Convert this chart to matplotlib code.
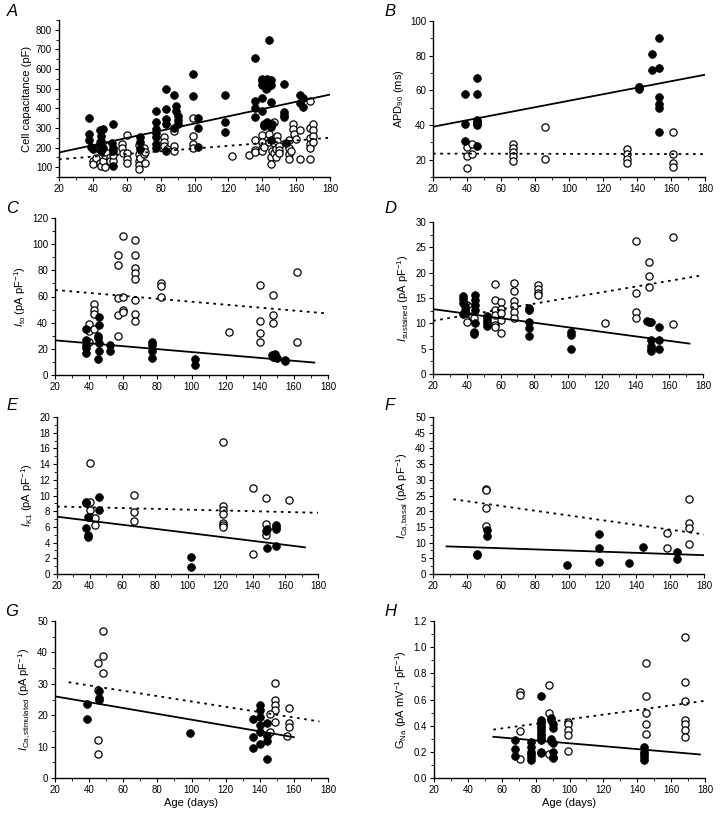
import matplotlib
matplotlib.use("Agg")
import matplotlib.pyplot as plt
from matplotlib.ticker import MultipleLocator, FormatStrFormatter

plt.rcParams['font.family'] = ['Liberation Sans', 'DejaVu Sans']
plt.rcParams['mathtext.fontset'] = 'custom'
plt.rcParams['mathtext.rm'] = 'Liberation Sans'
plt.rcParams['mathtext.it'] = 'Liberation Sans:italic'

# ---------------- data ----------------
# Panel A: cell capacitance (pF)
a_fill = [(38,350),(38,270),(38,240),(39,205),(40,195),(44,290),(46,295),(45,260),(45,235),(44,215),
          (46,200),(45,185),(52,320),(51,225),(52,200),(52,185),(52,105),(68,255),(68,230),(68,195),
          (77,385),(77,330),(77,295),(77,275),(77,255),(77,220),(77,200),(83,500),(83,395),(83,345),
          (83,320),(83,185),(88,470),(89,410),(89,385),(90,360),(90,340),(90,320),(88,300),(99,575),
          (99,465),(102,350),(102,300),(102,205),(118,470),(118,330),(118,280),(136,655),(136,435),
          (136,400),(136,355),(140,550),(140,540),(140,520),(142,500),(140,455),(140,385),(141,320),
          (141,310),(143,550),(143,530),(143,505),(144,750),(145,545),(145,520),(145,430),(143,330),
          (146,320),(145,305),(145,240),(153,525),(153,380),(153,365),(153,355),(154,225),(162,470),
          (162,425),(164,455),(164,405)]
a_open = [(40,130),(40,115),(42,145),(43,200),(44,230),(44,120),(45,105),(46,130),(47,100),(47,160),
          (48,175),(49,210),(50,150),(50,130),(52,130),(52,160),(57,220),(57,200),(58,170),(60,265),
          (60,170),(60,140),(60,120),(67,215),(67,165),(67,130),(67,110),(67,90),(68,145),(70,200),
          (70,165),(71,120),(71,175),(82,255),(82,230),(82,210),(84,195),(88,285),(88,210),(88,180),
          (99,350),(99,260),(99,220),(99,200),(122,155),(132,160),(136,240),(136,190),(136,175),
          (140,265),(140,230),(140,200),(140,180),(141,205),(144,270),(144,230),(145,150),(145,115),
          (146,180),(147,330),(147,225),(147,170),(148,150),(148,195),(149,260),(149,235),(150,210),
          (150,190),(150,170),(156,240),(156,200),(156,165),(156,140),(157,180),(158,320),(158,295),
          (159,270),(160,245),(162,290),(162,140),(168,435),(168,300),(168,250),(168,220),(168,200),
          (168,140),(170,320),(170,290),(170,260),(170,230)]
a_fit_fill = [(20,175),(180,470)]
a_fit_open = [(20,140),(180,250)]

# Panel B: APD90 (ms)
b_fill = [(39,58),(39,40.5),(39,31),(46,67),(46,58),(46,43),(46,42),(46,41),(46,40),(46,28),
          (149,81),(149,72),(153,90),(153,73),(153,56),(153,52),(153,50),(153,36),
          (141,62),(141,61),(141,62)]
b_open = [(40,15),(40,27.5),(40,22),(43,29),(43,23.5),(67,29),(67,27),(67,24.5),(67,22),(67,19),
          (86,39),(86,20.5),(134,26),(134,23.5),(134,20.5),(134,18),(161,36),(161,23.5),(161,18),(161,16)]
b_fit_fill = [(20,39),(180,69)]
b_fit_open = [(20,23.5),(180,23.2)]

# Panel C: Ito (pA/pF)
c_fill = [(38,35),(38,27),(38,23),(38,20.5),(38,17),(45,29.5),(45,28),(45,12.5),(46,44.5),(46,38.5),
          (46,24.5),(46,18),(52,23),(52,18),(77,25),(77,23),(77,18),(77,13),(102,12.5),(102,7.5),
          (147,15),(148,14),(149,16),(150,13),(155,11.5),(155,10.5)]
c_open = [(40,39),(40,34),(40,25.5),(43,54.5),(43,49.5),(43,46.5),(43,35.5),(57,92),(57,84),(57,59),
          (57,46),(57,30),(60,106.5),(60,59.5),(60,50),(60,48),(67,103.5),(67,92),(67,82),(67,78),(67,73),
          (67,57.5),(67,47),(67,41.5),(82,70),(82,68),(82,60),(122,33),(140,69),(140,41),(140,32),(140,25),
          (148,61),(148,46),(148,40),(162,78.5),(162,25.5)]
c_fit_fill = [(20,26.5),(172,9.5)]
c_fit_open = [(20,65),(180,47)]

# Panel D: Isustained (pA/pF)
d_fill = [(38,15.3),(38,14.8),(38,14),(39,13.5),(39,12.6),(39,12),(38,11.8),(45,15.6),(45,14.6),
          (45,13.6),(45,12.6),(45,10),(44,8.3),(44,7.8),(52,11.5),(52,11),(52,10.5),(52,10),(52,9.5),
          (77,13),(77,12.7),(77,10.3),(77,9),(77,7.5),(102,8.3),(102,7.7),(102,4.9),(147,10.5),
          (148,10.3),(149,10.2),(149,6.7),(149,5.5),(149,5),(149,4.6),(154,9.3),(154,6.8),(154,4.9)]
d_open = [(40,13.6),(40,12),(40,10.2),(42,13.3),(43,12.6),(43,11.5),(44,11),(57,17.7),(57,14.6),
          (57,12.6),(57,11.6),(57,9.6),(57,9.2),(60,14.2),(60,12.9),(60,12),(60,10.6),(60,8.1),
          (68,17.9),(68,16.4),(68,14.5),(68,13.4),(68,12.2),(68,11),(82,17.5),(82,16.8),(82,16),
          (82,15.6),(122,10),(140,26.3),(140,15.9),(140,12.3),(140,11),(148,22.1),(148,19.3),(148,17.2),
          (162,27),(162,9.8)]
d_fit_fill = [(20,12.8),(172,6)]
d_fit_open = [(20,10.5),(180,19.5)]

# Panel E: IK1 (pA/pF)
e_fill = [(38,9.2),(38,9.0),(39,7.2),(38,5.9),(39,5.0),(39,4.7),(46,9.8),(46,8.1),(102,2.2),(102,0.9),
          (148,5.5),(149,5.7),(149,3.3),(154,6.2),(154,6.0),(154,5.7),(154,3.6)]
e_open = [(40,14.2),(40,9.2),(40,8.2),(40,7.2),(43,7.1),(43,6.2),(67,10.1),(67,7.9),(67,6.8),
          (122,16.8),(122,8.6),(122,8.2),(122,7.6),(122,6.5),(122,6.2),(122,6.0),(140,10.9),(140,2.5),
          (148,9.7),(148,6.4),(148,5.0),(162,9.4)]
e_fit_fill = [(20,7.3),(172,3.4)]
e_fit_open = [(20,8.6),(180,7.8)]

# Panel F: ICa,basal (pA/pF)
f_fill = [(46,6.3),(46,6.0),(52,14.0),(52,12.2),(99,2.9),(118,12.8),(118,8.2),(118,3.9),(136,3.6),
          (144,8.7),(164,6.9),(164,4.7)]
f_open = [(51,27),(51,26.6),(51,21),(51,15.3),(158,13.2),(158,8.4),(171,23.8),(171,16.4),(171,14.8),(171,9.6)]
f_fit_fill = [(28,8.8),(180,6.0)]
f_fit_open = [(32,23.8),(180,12.6)]

# Panel G: ICa,stimulated (pA/pF)
g_fill = [(39,23.5),(39,18.7),(46,27.8),(46,24.8),(46,25.4),(99,14.2),(136,18.8),(136,13),(136,9.7),
          (140,23.2),(140,21.7),(140,19.3),(140,16.9),(140,14.5),(140,10.9),(144,17.5),(144,13.5),
          (144,11.8),(144,6)]
g_open = [(45,36.5),(45,28),(45,12.2),(45,7.5),(48,46.7),(48,38.8),(48,33.3),(149,30.1),(149,24.8),
          (149,23.3),(149,21.7),(149,17.7),(146,20.3),(146,14.5),(157,22.2),(157,17.4),(157,16.1),(156,13.4)]
g_fit_fill = [(20,26),(160,13)]
g_fit_open = [(28,30.5),(175,18)]

# Panel H: GNa (pA mV-1 pF-1)
h_fill = [(68,0.29),(68,0.225),(68,0.165),(77,0.275),(77,0.24),(77,0.2),(77,0.18),(77,0.16),(77,0.14),
          (83,0.44),(83,0.42),(83,0.40),(83,0.38),(83,0.36),(83,0.34),(83,0.32),(83,0.30),(83,0.29),
          (83,0.20),(83,0.19),(83,0.625),(89,0.46),(89,0.44),(90,0.41),(90,0.38),(89,0.30),(89,0.28),
          (90,0.27),(90,0.20),(90,0.16),(90,0.15),(144,0.24),(144,0.20),(144,0.18),(144,0.16),(144,0.14)]
h_open = [(71,0.655),(71,0.635),(71,0.36),(71,0.145),(88,0.71),(88,0.50),(88,0.18),(99,0.43),(99,0.41),
          (99,0.37),(99,0.33),(99,0.21),(145,0.88),(145,0.63),(145,0.50),(145,0.41),(145,0.34),
          (168,1.08),(168,0.73),(168,0.59),(168,0.44),(168,0.41),(168,0.37),(168,0.31)]
h_fit_fill = [(55,0.315),(177,0.18)]
h_fit_open = [(55,0.37),(180,0.59)]

ylabels = ["Cell capacitance (pF)", r"APD$_{90}$ (ms)", r"$I_{\rm to}$ (pA pF$^{-1}$)",
           r"$I_{\rm sustained}$ (pA pF$^{-1}$)", r"$I_{\rm K1}$ (pA pF$^{-1}$)",
           r"$I_{\rm Ca,basal}$ (pA pF$^{-1}$)", r"$I_{\rm Ca,stimulated}$ (pA pF$^{-1}$)",
           r"G$_{\rm Na}$ (pA mV$^{-1}$ pF$^{-1}$)"]
letters = ["A", "B", "C", "D", "E", "F", "G", "H"]
xticks = [20, 40, 60, 80, 100, 120, 140, 160, 180]

# ---------------- layout ----------------
W, H = 720, 815
fig = plt.figure(figsize=(W / 100, H / 100), dpi=100)

def box(l, r, t, b):
    return [l / W, 1 - b / H, (r - l) / W, (b - t) / H]

rects = [box(59, 330, 20, 177), box(433, 705, 21, 177),
         box(55, 328, 218, 375), box(433, 703, 222, 374),
         box(57, 318, 417, 574), box(433, 704, 417, 574),
         box(55, 328, 621, 778), box(434, 705, 621, 778)]
ylims = [(50, 850), (10, 100), (0, 120), (0, 30), (0, 20), (0, 50), (0, 50), (0, 1.2)]
ymaj = [100, 20, 20, 5, 2, 5, 10, 0.2]
ymin = [50, 10, 10, 2.5, 1, 2.5, 5, 0.1]
yfmt = ["%d", "%d", "%d", "%d", "%d", "%d", "%d", "%.1f"]
letter_pos = [(12, 12), (390, 12), (12, 208), (390, 208), (12, 405), (390, 405), (12, 612), (390, 612)]

fills = [a_fill, b_fill, c_fill, d_fill, e_fill, f_fill, g_fill, h_fill]
opens = [a_open, b_open, c_open, d_open, e_open, f_open, g_open, h_open]
fit_f = [a_fit_fill, b_fit_fill, c_fit_fill, d_fit_fill, e_fit_fill, f_fit_fill, g_fit_fill, h_fit_fill]
fit_o = [a_fit_open, b_fit_open, c_fit_open, d_fit_open, e_fit_open, f_fit_open, g_fit_open, h_fit_open]

for i in range(8):
    ax = fig.add_axes(rects[i])
    ox, oy = zip(*opens[i])
    ax.plot(ox, oy, 'o', ms=5.2, mfc='white', mec='black', mew=0.9, ls='none', zorder=3)
    fx, fy = zip(*fills[i])
    ax.plot(fx, fy, 'o', ms=5.6, mfc='black', mec='black', mew=0.5, ls='none', zorder=4)
    lx, ly = zip(*fit_f[i])
    ax.plot(lx, ly, '-', color='black', lw=1.3, zorder=5)
    lx, ly = zip(*fit_o[i])
    ax.plot(lx, ly, color='black', lw=1.3, ls=(0, (1.5, 2.5)), zorder=5)

    ax.set_xlim(20, 180)
    ax.set_ylim(*ylims[i])
    ax.set_xticks(xticks)
    ax.xaxis.set_minor_locator(MultipleLocator(10))
    ax.yaxis.set_major_locator(MultipleLocator(ymaj[i]))
    ax.yaxis.set_minor_locator(MultipleLocator(ymin[i]))
    ax.yaxis.set_major_formatter(FormatStrFormatter(yfmt[i]))
    for s in ['top', 'right']:
        ax.spines[s].set_visible(False)
    for s in ['left', 'bottom']:
        ax.spines[s].set_linewidth(1.0)
    ax.tick_params(which='major', direction='out', length=3, width=0.8, labelsize=7, pad=2)
    ax.tick_params(which='minor', direction='out', length=2, width=0.6)
    ax.set_ylabel(ylabels[i], fontsize=8, labelpad=3)
    if i >= 6:
        ax.set_xlabel("Age (days)", fontsize=8, labelpad=2)
    lx, ly = letter_pos[i]
    fig.text(lx / W, 1 - ly / H, letters[i], fontsize=12, style='italic',
             ha='center', va='center')

fig.savefig("out.png", dpi=100)
